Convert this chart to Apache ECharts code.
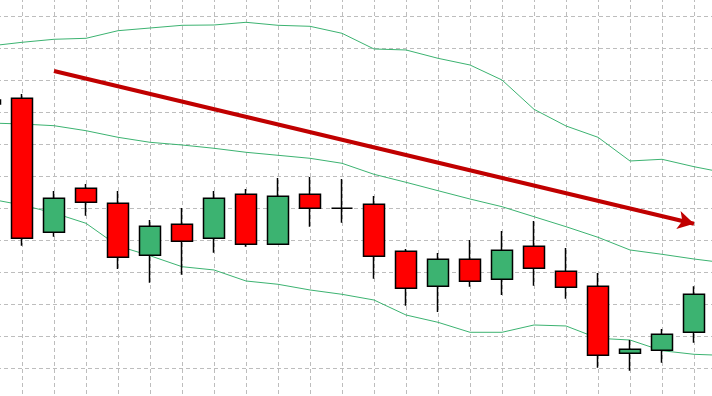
<!DOCTYPE html>
<html>
<head>
<meta charset="utf-8">
<script src="https://cdn.jsdelivr.net/npm/echarts@6/dist/echarts.min.js"></script>
<style>html,body{margin:0;padding:0;background:#fff}#c{width:712px;height:396px}</style>
</head>
<body>
<div id="c"></div>
<script>
const categories = ['B0','B1','B2','B3','B4','B5','B6','B7','B8','B9','B10','B11','B12','B13','B14','B15','B16','B17','B18','B19','B20','B21','B22','B23'];
// [open, close, low, high]
const candles = [
  [92.5, 93.75, 91.25, 95],
  [94.28, 50.53, 48.22, 95.63],
  [52.41, 63.03, 51.03, 65.31],
  [66.16, 61.78, 57.59, 67.5],
  [61.47, 44.59, 40.94, 65.31],
  [45.22, 54.28, 36.66, 56.25],
  [54.91, 49.59, 39.16, 60],
  [50.53, 63.03, 46.03, 65.31],
  [64.28, 48.66, 47.91, 65.94],
  [48.66, 63.66, 48.66, 69.38],
  [64.28, 59.91, 54.16, 69.69],
  [59.91, 59.91, 55.41, 69.06],
  [61.16, 44.91, 37.91, 63.75],
  [46.47, 34.91, 29.47, 47.19],
  [35.53, 43.97, 27.5, 45.94],
  [43.97, 37.09, 35.41, 50],
  [37.72, 46.78, 32.81, 52.81],
  [48.03, 41.16, 35.72, 55.94],
  [40.22, 35.22, 31.66, 47.5],
  [35.53, 13.97, 10.09, 39.69],
  [14.59, 15.84, 9.16, 18.75],
  [15.53, 20.53, 11.66, 22.19],
  [21.16, 33.03, 17.91, 35.53]
];
const upperBand = [110.63,111.78,112.72,113.03,115.41,116.25,117.09,117.19,118.03,117.09,116.78,114.59,109.69,109.38,106.78,104.69,100,90.84,85.63,82.09,74.69,75.22,72.91,70.94];
const middleBand = [86.56,86.25,85.72,84.16,82.09,80.53,79.69,78.66,77.41,76.47,75.53,73.97,70.53,68.03,65.41,62.81,60.41,57.28,54.16,50.84,46.88,45.53,44.06,42.81];
const lowerBand = [62.81,60.94,58.44,55.22,48.13,45.09,41.66,40.63,37.19,36.16,34.38,33.03,31.25,26.56,24.28,21.16,21.16,23.44,23.13,19.28,18.75,15.41,14.28,13.91];
const trendStart = [2, 102.8];
const trendEnd = [22, 55.1];

const chart = echarts.init(document.getElementById('c'), null, {renderer: 'canvas'});
const splitStyle = {color: '#bdbdbd', width: 1, type: [4, 3]};
const bandLine = (name, data) => ({
  name, type: 'line', data, symbol: 'none', silent: true, z: 1,
  lineStyle: {color: '#3cb371', width: 1}, itemStyle: {color: '#3cb371'}
});
chart.setOption({
  animation: false,
  backgroundColor: '#ffffff',
  grid: {left: -10, right: -14, top: -16, bottom: -4, containLabel: false, outerBoundsMode: 'none'},
  xAxis: {
    type: 'category', data: categories, boundaryGap: false,
    axisLine: {show: false}, axisTick: {show: false}, axisLabel: {show: false},
    splitLine: {show: true, interval: 0, lineStyle: splitStyle}
  },
  yAxis: {
    type: 'value', min: 0, max: 130, interval: 10,
    axisLine: {show: false}, axisTick: {show: false}, axisLabel: {show: false},
    splitLine: {show: true, lineStyle: splitStyle}
  },
  series: [
    bandLine('upper', upperBand),
    bandLine('middle', middleBand),
    bandLine('lower', lowerBand),
    {
      name: 'price', type: 'candlestick', data: candles, barWidth: 22, z: 3,
      silent: true,
      itemStyle: {
        color: '#3cb371', color0: '#ff0000',
        borderColor: '#000000', borderColor0: '#000000', borderColorDoji: '#000000',
        borderWidth: 1.5
      },
      markLine: {
        silent: true, animation: false,
        symbol: ['none', 'arrow'], symbolSize: [14, 16],
        label: {show: false},
        lineStyle: {color: '#c00000', width: 4, type: 'solid'},
        emphasis: {disabled: true},
        data: [[
          {coord: [categories[trendStart[0]], trendStart[1]]},
          {coord: [categories[trendEnd[0]], trendEnd[1]]}
        ]]
      }
    }
  ]
});
</script>
</body>
</html>
